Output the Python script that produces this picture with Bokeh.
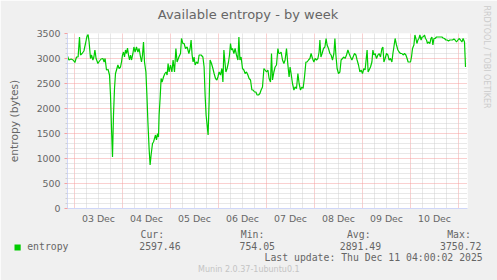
import math
from bokeh.plotting import figure
from bokeh.models import Range1d, FixedTicker, Title
from bokeh.embed import file_html
from bokeh.resources import INLINE

# hours since 2025-12-03 00:00
hours = [-3.7, -2.8, -1.7, -0.7, 0.2, 1.0, 1.8, 2.5, 3.0, 3.8, 4.7, 5.5, 6.0, 6.3, 6.8, 7.3, 8.0, 8.5, 9.2, 9.7,
         10.2, 10.8, 11.7, 12.5, 13.3, 14.2, 14.8, 15.3, 16.0, 16.8, 17.5, 18.0, 18.5, 19.0, 19.5, 20.0, 20.5, 21.0,
         21.7, 22.3, 23.0, 23.5, 24.0, 24.5, 25.0, 25.5, 26.0, 26.5, 27.0, 27.5, 28.0, 28.5, 29.2, 29.7, 30.3, 31.0,
         31.7, 32.3, 33.0, 33.5, 34.0, 34.5, 35.0, 35.7, 36.2, 36.7, 37.3, 37.8, 38.3, 39.0, 39.5, 40.0, 40.5, 41.0,
         41.5, 42.0, 42.3, 42.8, 43.3, 43.8, 44.5, 45.2,
         45.8, 46.3, 46.8, 47.3, 48.0, 48.7, 49.3, 50.0, 50.7, 51.3, 52.2, 53.0, 53.5, 54.2, 54.8, 55.5, 56.3, 57.2,
         57.8, 58.3, 58.8, 59.3, 59.8, 60.3, 61.0, 61.7, 62.3, 63.3, 64.2, 64.8, 65.3, 65.8, 66.3, 66.8, 67.3, 67.8,
         68.5, 69.2, 69.8, 70.5, 71.2, 71.7, 72.3, 73.0, 73.7, 74.2, 74.7, 75.2, 75.7, 76.3, 77.0, 77.5, 78.0, 78.5,
         79.0, 79.7, 80.3, 81.0, 81.7, 82.2, 82.7, 83.3, 84.0, 84.7, 85.3, 86.0, 86.7, 87.3, 88.0, 88.7, 89.3, 90.0,
         90.7, 91.3, 92.0, 92.7, 93.3, 94.0,
         94.7, 95.3, 96.0, 96.7, 97.3, 98.0, 98.5, 99.0, 99.7, 100.3, 101.0, 101.7, 102.2, 102.7, 103.3, 104.0,
         104.7, 105.3, 106.0, 106.7, 107.3, 107.8, 108.3, 109.0, 109.7, 110.3, 111.0, 111.7, 112.3, 113.0, 113.7,
         114.3, 115.0, 115.7, 116.3, 117.0, 117.7, 118.3, 119.0, 119.7, 120.3, 121.0, 121.7, 122.3, 122.7, 123.2,
         123.8, 124.5, 125.2, 125.8, 126.3, 127.0, 127.7, 128.3, 129.0, 129.7, 130.2, 130.7, 131.3, 132.0, 132.7,
         133.3, 134.0, 134.7, 135.3, 136.0, 136.7, 137.3, 138.0, 138.7, 139.3, 140.0, 140.7, 141.3, 142.0, 142.7,
         143.3, 144.0, 144.7, 145.3,
         146.3, 146.8, 147.3, 148.0, 148.7, 149.2, 149.7, 150.3, 151.0, 151.7, 152.3, 153.0, 153.7, 154.2, 154.7,
         155.3, 156.0, 156.7, 157.3, 158.0, 158.7, 159.2, 159.7, 160.3, 161.0, 161.7, 162.3, 163.0, 163.7, 164.3,
         165.0, 165.7, 166.3, 166.8, 167.3, 168.0, 168.5, 169.0, 169.7, 170.2, 170.7, 171.2, 171.7, 172.2, 172.7,
         173.3, 173.8, 174.3, 175.0, 175.5, 176.0, 176.5, 177.0, 177.7, 178.2, 178.7, 179.2, 179.7, 180.3, 181.0,
         181.7, 182.3, 183.0, 183.7, 184.3, 185.0, 185.7, 186.3, 187.0, 187.7, 188.3, 189.0, 189.7, 190.3, 191.0,
         191.7, 192.3, 193.0, 193.7, 194.3, 195.0, 195.5]

entropy = [3070, 2970, 2990, 2970, 2920, 3030, 3030, 3430, 3070, 3100, 3150, 3300, 3400, 3450, 3480, 3330, 3000, 3070, 2970, 3030,
           3170, 3000, 2900, 2950, 2990, 3000, 2930, 3000, 2770, 2780, 2670, 2270, 1600, 1030, 1870, 2400, 2700, 2770,
           2870, 2800, 2830, 2930, 3070, 3130, 3030, 3170, 3100, 3210, 3070, 2970, 3070, 2970, 3100, 3230, 3130, 3230,
           3130, 3200, 3030, 2930, 3070, 3330, 2930, 2730, 2270, 1730, 1200, 870, 1070, 1300, 1330, 1400, 1470, 1370,
           1500, 1430, 1870, 2200, 2600, 2530, 2630, 2700,
           2730, 2670, 2900, 2730, 2870, 2730, 2970, 2730, 3200, 2930, 3030, 3100, 3400, 3300, 3300, 3200, 3230, 3100,
           3200, 3370, 3070, 2930, 3030, 2870, 2930, 2900, 3070, 3070, 3030, 2830, 2270, 1870, 1670, 1470, 2130, 2970,
           2900, 2800, 2700, 2600, 2570, 2630, 2730, 2670, 2800, 2530, 3170, 2930, 2730, 2800, 2930, 3070, 3300, 3170,
           3200, 3100, 3200, 3070, 2970, 3430, 2970, 3030, 2800, 2770, 2700, 2730, 2670, 2600, 2570, 2370, 2370, 2330,
           2330, 2270, 2270, 2300, 2370, 2430,
           2800, 2770, 2730, 2770, 2600, 2530, 3100, 2570, 2730, 2830, 2870, 3200, 3100, 3100, 3130, 2970,
           2900, 2970, 3200, 2870, 2630, 2830, 2700, 2500, 2370, 2430, 2400, 2700, 2500, 2370, 2430,
           2400, 2630, 2930, 2930, 2970, 3000, 3100, 3000, 2930, 3000, 2970, 3000, 3130, 3370, 3030,
           3100, 3200, 3230, 3400, 3270, 3200, 3100, 3070, 2970, 3100, 3400, 3070, 2800, 2700, 2730,
           2970, 3000, 3030, 3000, 3070, 3170, 3100, 3030, 2970, 3030, 3100, 3070, 2970, 2870, 2730,
           2770, 2700, 2800, 2770,
           3170, 2730, 2770, 2830, 2930, 3170, 3070, 3100, 3000, 3070, 3100, 3030, 3200, 3230, 2930,
           3000, 3100, 3070, 2970, 3000, 2930, 3100, 3230, 3400, 3270, 3170, 3130, 3100, 3100, 3070,
           3100, 3070, 3000, 2930, 2930, 2930, 3030, 3200, 3270, 3470, 3400, 3300, 3370, 3400, 3470,
           3370, 3430, 3430, 3470, 3400, 3370, 3300, 3330, 3300, 3400, 3430, 3270, 3400, 3400, 3430,
           3430, 3430, 3430, 3430, 3410, 3400, 3370, 3370, 3350, 3370, 3370, 3370, 3390, 3370, 3330,
           3370, 3400, 3370, 3330, 3400, 3330, 2830]

day_midnights = [0, 24, 48, 72, 96, 120, 144, 168, 192]
day_labels = ["03 Dec", "04 Dec", "05 Dec", "06 Dec", "07 Dec", "08 Dec", "09 Dec", "10 Dec"]
y_ticks = [0, 500, 1000, 1500, 2000, 2500, 3000, 3500]

series_name = "entropy"
stat_names = ["Cur:", "Min:", "Avg:", "Max:"]
stat_values = ["2597.46", "754.05", "2891.49", "3750.72"]
last_update = "Last update: Thu Dec 11 04:00:02 2025"
footer = "Munin 2.0.37-1ubuntu0.1"
side_text = "RRDTOOL / TOBI OETIKER"
title_text = "Available entropy - by week"
y_label = "entropy (bytes)"

FONT = "DejaVu Sans"
MONO = "DejaVu Sans Mono"
TXT = "#666666"
AXIS = "#CFD6F8"
MGRID = "#F5A0A0"
GRID = "#D0D0D0"
LINE = "#00CC00"
NB = "\u00a0"

p = figure(width=497, height=280, output_backend="svg", toolbar_location=None,
           x_range=Range1d(-3.5, 196.5), y_range=Range1d(0, 3500),
           min_border_left=67, min_border_right=30, min_border_top=33, min_border_bottom=72,
           background_fill_color="white", border_fill_color="#F0F0F0", outline_line_color=None)

six_hours = [h for h in range(0, 198, 6) if h % 24 != 0]
p.xgrid.ticker = FixedTicker(ticks=day_midnights, minor_ticks=six_hours)
p.xgrid.grid_line_color = MGRID
p.xgrid.grid_line_dash = "1 1"
p.xgrid.minor_grid_line_color = GRID
p.xgrid.minor_grid_line_dash = "1 1"

y_minor = [v for v in range(0, 3501, 100) if v % 500 != 0]
p.ygrid.ticker = FixedTicker(ticks=y_ticks, minor_ticks=y_minor)
p.ygrid.grid_line_color = MGRID
p.ygrid.grid_line_dash = "1 1"
p.ygrid.minor_grid_line_color = GRID
p.ygrid.minor_grid_line_dash = "1 1"

day_noons = [d + 12 for d in day_midnights[:-1]]
p.xaxis.ticker = FixedTicker(ticks=day_noons)
p.xaxis.major_label_overrides = {n: lab for n, lab in zip(day_noons, day_labels)}
p.xaxis.major_tick_line_color = None
p.xaxis.minor_tick_line_color = None
p.xaxis.major_tick_out = 0
p.xaxis.major_tick_in = 0
p.xaxis.minor_tick_out = 0
p.xaxis.minor_tick_in = 0
p.xaxis.major_label_standoff = 4
p.xaxis.axis_line_color = AXIS

p.yaxis.ticker = FixedTicker(ticks=y_ticks, minor_ticks=y_minor)
p.yaxis.major_tick_out = 3
p.yaxis.major_tick_in = 0
p.yaxis.major_tick_line_color = MGRID
p.yaxis.minor_tick_out = 2
p.yaxis.minor_tick_in = 0
p.yaxis.minor_tick_line_color = GRID
p.yaxis.major_label_standoff = 4
p.yaxis.axis_line_color = AXIS
p.yaxis.axis_label = y_label
p.yaxis.axis_label_text_font = FONT
p.yaxis.axis_label_text_font_size = "10.7px"
p.yaxis.axis_label_text_font_style = "normal"
p.yaxis.axis_label_text_color = TXT
p.yaxis.axis_label_standoff = 13

for ax in (p.xaxis, p.yaxis):
    ax.major_label_text_font = FONT
    ax.major_label_text_font_size = "9.4px"
    ax.major_label_text_color = TXT

p.line(hours, entropy, line_color=LINE, line_width=1.2)


def ttl(text, place, size, font=FONT, color=TXT, offset=0.0, valign="middle", standoff=0.0, **kw):
    p.add_layout(Title(text=text, align="left", offset=offset, vertical_align=valign, standoff=standoff,
                       text_font=font, text_font_size=f"{size}px", text_font_style="normal",
                       text_color=color, **kw), place)


def pad(parts, cols):
    s = ""
    for part, c in zip(parts, cols):
        if s:
            s += NB * max(1, c - len(s))
        s += part
    return s


# ---- above: spacer (closest to the frame) then title
ttl(" ", "above", 5, color="#F0F0F0", standoff=2.6)
ttl(title_text, "above", 13, offset=90.3)

# ---- right: spacer then vertical credit text
ttl(" ", "right", 1, color="#F0F0F0", standoff=10.2)
ttl(side_text, "right", 8, color="#CCCCCC", offset=-28)

# ---- below: stats header, series row, legend swatch, last update, footer
ttl(pad(stat_names, [0, 17, 35, 52]), "below", 9.8, font=MONO, offset=73, standoff=3.2)
ttl(pad([series_name] + stat_values, [0, 19, 36, 53, 70]), "below", 9.8, font=MONO, offset=-40.3,
    valign="bottom", standoff=-6.6)
ttl(NB * 2, "below", 5.15, font=MONO, color=LINE, offset=-53, valign="top", standoff=-8,
    background_fill_color=LINE)
ttl(last_update, "below", 9.8, font=MONO, offset=197, standoff=5.2)
ttl(footer, "below", 8, color="#C4C4C4", offset=130.6, standoff=-5.7)

open("out.html", "w").write(file_html(p, INLINE))
